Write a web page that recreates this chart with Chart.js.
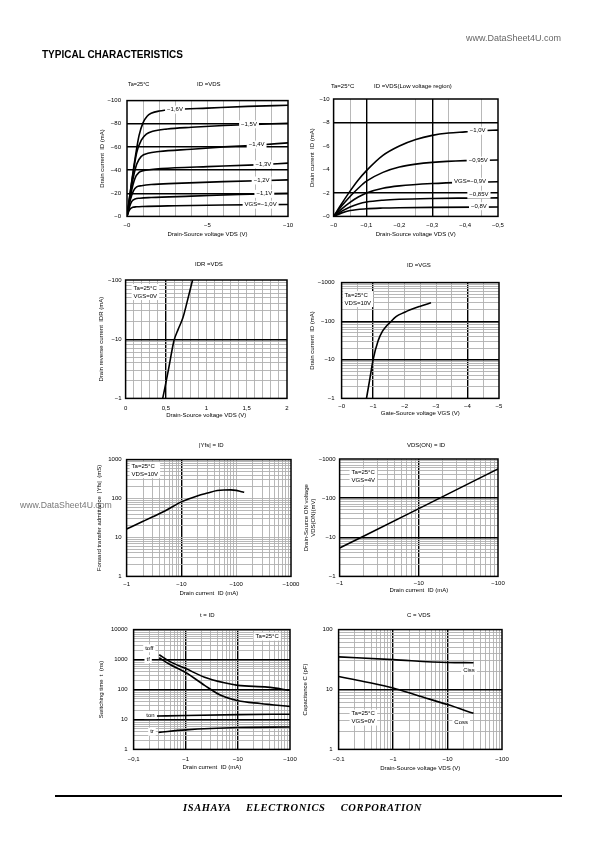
<!DOCTYPE html>
<html>
<head>
<meta charset="utf-8">
<title>Typical characteristics</title>
<script src="https://cdn.jsdelivr.net/npm/chart.js@4.4.1/dist/chart.umd.min.js"></script>
<style>
  body { margin: 0; width: 595px; height: 842px; position: relative; background: #fff;
         font-family: "Liberation Sans", Arial, sans-serif; color: #000; }
  canvas { position: absolute; }
  .t { position: absolute; font-size: 6px; line-height: 8px; white-space: nowrap; color: #000;
       filter: grayscale(100%); will-change: transform; }
</style>
</head>
<body>
<div class="t" style="left:466px;top:33px;font-size:9px;line-height:10px;color:#666">www.DataSheet4U.com</div>
<div class="t" style="left:42px;top:50px;font-size:10px;line-height:10px;font-weight:bold">TYPICAL CHARACTERISTICS</div>

<div class="t" style="left:128px;top:80px;font-size:5.5px">Ta=25°C</div>
<div class="t" style="left:197px;top:80px">ID =VDS</div>
<div class="t" style="left:331px;top:82px">Ta=25°C</div>
<div class="t" style="left:374px;top:82px">ID =VDS(Low voltage region)</div>
<div class="t" style="left:195px;top:260px">IDR =VDS</div>
<div class="t" style="left:407px;top:261px">ID =VGS</div>
<div class="t" style="left:199px;top:441px">|Yfs| = ID</div>
<div class="t" style="left:407px;top:441px">VDS(ON) = ID</div>
<div class="t" style="left:200px;top:611px">t = ID</div>
<div class="t" style="left:407px;top:611px">C = VDS</div>

<div class="t" style="left:20px;top:500px;font-size:8.7px;line-height:10px;color:#777">www.DataSheet4U.com</div>

<canvas id="c1"></canvas>
<canvas id="c2"></canvas>
<canvas id="c3"></canvas>
<canvas id="c4"></canvas>
<canvas id="c5"></canvas>
<canvas id="c6"></canvas>
<canvas id="c7"></canvas>
<canvas id="c8"></canvas>

<div style="position:absolute;left:55px;top:795px;width:507px;height:2px;background:#000"></div>
<div class="t" style="left:183px;top:802px;font:bold italic 10.5px 'Liberation Serif',serif;letter-spacing:0.6px;word-spacing:12px">ISAHAYA ELECTRONICS CORPORATION</div>

<script>
const FONT = '"Liberation Sans", Arial, sans-serif';
const GRAY = '#b0b0b0';

// ==========================
// ID - VDS  (magnitudes, V / mA)
// ==========================
const c1Vds16 = [0, 0.25, 0.5, 0.75, 1.0, 1.25, 1.5, 2, 3, 5, 7.5, 10];
const c1Id16  = [0, 26, 50, 70, 81, 86.5, 89, 91, 92.3, 93.5, 95, 96];
const c1Vds15 = [0, 0.3, 0.6, 0.9, 1.2, 1.6, 2.5, 4, 6, 8, 10];
const c1Id15  = [0, 30, 55, 66, 71, 73.5, 75.5, 77, 78.5, 79.5, 80.5];
const c1Vds14 = [0, 0.3, 0.6, 0.9, 1.3, 2, 4, 6, 8, 10];
const c1Id14  = [0, 27, 45, 52, 54.5, 56, 58, 60, 61.5, 63.5];
const c1Vds13 = [0, 0.25, 0.5, 0.75, 1.0, 1.5, 3, 5, 8, 10];
const c1Id13  = [0, 20, 33, 38, 39.5, 40.5, 42, 43, 44.5, 46];
const c1Vds12 = [0, 0.2, 0.4, 0.6, 0.9, 1.5, 3, 6, 10];
const c1Id12  = [0, 14, 22, 25.5, 26.5, 27.5, 28.5, 30, 31.5];
const c1Vds11 = [0, 0.15, 0.3, 0.5, 0.8, 1.5, 4, 7, 10];
const c1Id11  = [0, 8, 13, 15, 15.7, 16.3, 17.5, 19, 20];
const c1Vds10 = [0, 0.1, 0.2, 0.35, 0.6, 1, 3, 6, 10];
const c1Id10  = [0, 4, 6.5, 7.8, 8.3, 8.6, 9.2, 9.8, 10.3];
const c1XTicks = [0, 5, 10];
const c1XNames = ['−0', '−5', '−10'];
const c1YTicks = [0, 20, 40, 60, 80, 100];
const c1YNames = ['−0', '−20', '−40', '−60', '−80', '−100'];

// ==========================
// ID - VDS low voltage region
// ==========================
const c2Vds100 = [0, 0.025, 0.05, 0.075, 0.1, 0.15, 0.2, 0.25, 0.3, 0.35, 0.4, 0.45, 0.5];
const c2Id100  = [0, 1.1, 2.15, 3.1, 3.9, 5.2, 6.0, 6.55, 6.9, 7.1, 7.2, 7.3, 7.35];
const c2Vds095 = [0, 0.025, 0.05, 0.075, 0.1, 0.15, 0.2, 0.25, 0.3, 0.4, 0.5];
const c2Id095  = [0, 0.9, 1.7, 2.4, 3.0, 3.75, 4.2, 4.45, 4.6, 4.75, 4.8];
const c2Vds090 = [0, 0.025, 0.05, 0.075, 0.1, 0.15, 0.2, 0.3, 0.4, 0.5];
const c2Id090  = [0, 0.65, 1.2, 1.65, 2.0, 2.4, 2.6, 2.8, 2.9, 2.95];
const c2Vds085 = [0, 0.025, 0.05, 0.075, 0.1, 0.15, 0.2, 0.3, 0.4, 0.5];
const c2Id085  = [0, 0.45, 0.8, 1.05, 1.22, 1.38, 1.46, 1.53, 1.56, 1.58];
const c2Vds080 = [0, 0.025, 0.05, 0.1, 0.15, 0.2, 0.3, 0.5];
const c2Id080  = [0, 0.3, 0.5, 0.65, 0.71, 0.74, 0.77, 0.8];
const c2XTicks = [0, 0.1, 0.2, 0.3, 0.4, 0.5];
const c2XNames = ['−0', '−0,1', '−0,2', '−0,3', '−0,4', '−0,5'];
const c2YTicks = [0, 2, 4, 6, 8, 10];
const c2YNames = ['−0', '−2', '−4', '−6', '−8', '−10'];

// ==========================
// IDR - VDS
// ==========================
const c3Vds = [0.46, 0.53, 0.6, 0.65, 0.71, 0.77, 0.83];
const c3Idr = [1, 3.0, 9.5, 14.5, 23, 47, 100];
const c3XTicks = [0, 0.5, 1, 1.5, 2];
const c3XNames = ['0', '0,5', '1', '1,5', '2'];
const c3YTicks = [1, 10, 100];
const c3YNames = ['−1', '−10', '−100'];

// ==========================
// ID - VGS
// ==========================
const c4Vgs = [0.79, 0.9, 1.0, 1.16, 1.3, 1.42, 1.55, 1.74, 2.0, 2.16, 2.5, 2.84];
const c4Id  = [1, 3.3, 10, 31, 55, 74, 95, 133, 170, 195, 245, 300];
const c4XTicks = [0, 1, 2, 3, 4, 5];
const c4XNames = ['−0', '−1', '−2', '−3', '−4', '−5'];
const c4YTicks = [1, 10, 100, 1000];
const c4YNames = ['−1', '−10', '−100', '−1000'];

// ==========================
// |Yfs| - ID
// ==========================
const c5Id  = [1, 2, 3, 5, 10, 20, 30, 45, 60, 80, 100, 120, 140];
const c5Yfs = [16.5, 26, 34, 48, 82, 118, 138, 160, 166, 167, 162, 152, 145];
const c5XTicks = [1, 10, 100, 1000];
const c5XNames = ['−1', '−10', '−100', '−1000'];
const c5YTicks = [1, 10, 100, 1000];
const c5YNames = ['1', '10', '100', '1000'];

// ==========================
// VDS(ON) - ID
// ==========================
const c6Id   = [1, 10, 100];
const c6Vdon = [5.3, 54, 560];
const c6XTicks = [1, 10, 100];
const c6XNames = ['−1', '−10', '−100'];
const c6YTicks = [1, 10, 100, 1000];
const c6YNames = ['−1', '−10', '−100', '−1000'];

// ==========================
// t - ID
// ==========================
const c7IdOff = [0.31, 0.5, 1, 2.3, 5.5, 10, 37, 100];
const c7Toff  = [1450, 850, 500, 257, 167, 137, 120, 94];
const c7IdF   = [0.31, 0.5, 1, 2.3, 4.7, 10, 27, 100];
const c7Tf    = [1150, 680, 370, 137, 64, 42, 34, 27];
const c7IdOn  = [0.28, 1, 10, 100];
const c7Ton   = [13, 13.6, 14.5, 15];
const c7IdR   = [0.3, 1, 10, 100];
const c7Tr    = [3.7, 4.5, 5.4, 5.6];
const c7XTicks = [0.1, 1, 10, 100];
const c7XNames = ['−0,1', '−1', '−10', '−100'];
const c7YTicks = [1, 10, 100, 1000, 10000];
const c7YNames = ['1', '10', '100', '1000', '10000'];

// ==========================
// C - VDS
// ==========================
const c8VdsIss = [0.1, 1, 10, 30];
const c8Ciss   = [35, 31.5, 28.3, 28];
const c8VdsOss = [0.1, 0.3, 1, 3, 10, 30];
const c8Coss   = [16.5, 13.5, 10.6, 7.8, 5.6, 4.0];
const c8XTicks = [0.1, 1, 10, 100];
const c8XNames = ['−0.1', '−1', '−10', '−100'];
const c8YTicks = [1, 10, 100];
const c8YNames = ['1', '10', '100'];

// ==========================
// helpers
// ==========================
function near(a, b) { return Math.abs(a - b) <= 1e-9 * Math.max(1, Math.abs(b)); }
function inList(v, list) { return list.some(w => near(v, w)); }
function minors(lo, hi) {
  const out = [];
  for (let d = lo; d < hi * 0.999; d *= 10)
    for (let k = 2; k <= 9; k++) out.push(k * d);
  return out;
}

// labels with white background (curve names, condition boxes)
const notes = {
  id: 'notes',
  afterDatasetsDraw(chart, args, o) {
    const { ctx, chartArea: a, scales } = chart;
    ctx.save();
    ctx.font = '6px ' + FONT;
    ctx.textBaseline = 'middle';
    ctx.textAlign = 'left';
    (o.items || []).forEach(it => {
      const lines = it.text.split('\n');
      const w = Math.max(...lines.map(s => ctx.measureText(s).width)) + 4;
      let x0, cy;
      if (it.dx !== undefined) {
        x0 = a.left + it.dx; cy = a.top + it.dy;
      } else {
        x0 = scales.x.getPixelForValue(it.x) - w / 2; cy = scales.y.getPixelForValue(it.y);
      }
      ctx.fillStyle = '#fff';
      ctx.fillRect(x0, cy - 4, w, lines.length * 8);
      ctx.fillStyle = '#000';
      lines.forEach((s, i) => ctx.fillText(s, x0 + 2, cy + i * 8));
    });
    ctx.restore();
  }
};

const frame = {
  id: 'frame',
  afterDatasetsDraw(chart) {
    const { ctx, chartArea: a } = chart;
    ctx.save();
    ctx.strokeStyle = '#000';
    ctx.lineWidth = 1.5;
    ctx.strokeRect(a.left, a.top, a.right - a.left, a.bottom - a.top);
    ctx.restore();
  }
};

function axisCfg(a, isX) {
  const all = [...new Set([...a.grid, ...a.major, ...a.labels])].sort((p, q) => p - q);
  return {
    type: a.log ? 'logarithmic' : 'linear',
    position: isX ? 'bottom' : 'left',
    min: a.min, max: a.max,
    afterBuildTicks: s => { s.ticks = all.map(v => ({ value: v })); },
    afterFit: s => { if (isX) s.height = a.band; else s.width = a.band; },
    border: { display: false },
    grid: {
      drawTicks: false,
      color: c => inList(c.tick.value, a.major) ? '#000' : inList(c.tick.value, a.grid) ? GRAY : 'rgba(0,0,0,0)',
      lineWidth: c => inList(c.tick.value, a.major) ? 1.4 : 0.9
    },
    ticks: {
      autoSkip: false, maxRotation: 0, minRotation: 0, padding: a.pad,
      color: '#000', font: { family: FONT, size: 6 },
      callback: v => { const i = a.labels.findIndex(w => near(w, v)); return i < 0 ? '' : a.names[i]; }
    },
    title: { display: true, text: a.title, color: '#000', font: { family: FONT, size: 6 }, padding: 0 }
  };
}

// box = plot area on the page
function build(id, box, opt) {
  const cv = document.getElementById(id);
  const left = box.l - opt.y.band, top = box.t - 8;
  cv.width = box.r - left + 16;
  cv.height = box.b - top + opt.x.band;
  cv.style.left = left + 'px';
  cv.style.top = top + 'px';
  return new Chart(cv, {
    type: 'scatter',
    data: {
      datasets: opt.series.map(s => ({
        data: s[0].map((v, i) => ({ x: v, y: s[1][i] })),
        showLine: true, pointRadius: 0, borderColor: '#000', borderWidth: 1.6,
        cubicInterpolationMode: 'monotone'
      }))
    },
    options: {
      responsive: false, animation: false, devicePixelRatio: 1,
      layout: { padding: { left: 0, top: 8, right: 16, bottom: 0 } },
      plugins: { legend: { display: false }, tooltip: { enabled: false }, notes: { items: opt.notes || [] } },
      scales: { x: axisCfg(opt.x, true), y: axisCfg(opt.y, false) }
    },
    plugins: [notes, frame]
  });
}

const VDS_TITLE = 'Drain-Source voltage VDS (V)';

build('c1', { l: 127, t: 99, r: 288, b: 217 }, {
  series: [[c1Vds16, c1Id16], [c1Vds15, c1Id15], [c1Vds14, c1Id14], [c1Vds13, c1Id13],
           [c1Vds12, c1Id12], [c1Vds11, c1Id11], [c1Vds10, c1Id10]],
  x: { min: 0, max: 10, grid: [1, 2, 3, 4, 5, 6, 7, 8, 9], major: [], labels: c1XTicks, names: c1XNames,
       title: VDS_TITLE, band: 21.6, pad: 5 },
  y: { min: 0, max: 100, grid: [], major: [20, 40, 60, 80], labels: c1YTicks, names: c1YNames,
       title: 'Drain current  ID (mA)', band: 28, pad: 6 },
  notes: [
    { x: 2.98, y: 92.2, text: '−1,6V' }, { x: 7.58, y: 79.5, text: '−1,5V' },
    { x: 8.05, y: 62, text: '−1,4V' }, { x: 8.47, y: 45, text: '−1,3V' },
    { x: 8.36, y: 31, text: '−1,2V' }, { x: 8.53, y: 19.5, text: '−1,1V' },
    { x: 8.3, y: 10.1, text: 'VGS=−1,0V' }
  ]
});

build('c2', { l: 334, t: 99, r: 499, b: 217 }, {
  series: [[c2Vds100, c2Id100], [c2Vds095, c2Id095], [c2Vds090, c2Id090], [c2Vds085, c2Id085], [c2Vds080, c2Id080]],
  x: { min: 0, max: 0.5, grid: [0.05, 0.25, 0.35, 0.45], major: [0.1, 0.3], labels: c2XTicks, names: c2XNames,
       title: VDS_TITLE, band: 21.6, pad: 5 },
  y: { min: 0, max: 10, grid: [], major: [2, 8], labels: c2YTicks, names: c2YNames,
       title: 'Drain current  ID (mA)', band: 24.6, pad: 4 },
  notes: [
    { x: 0.438, y: 7.3, text: '−1,0V' }, { x: 0.44, y: 4.75, text: '−0,95V' },
    { x: 0.415, y: 2.95, text: 'VGS=−0,9V' }, { x: 0.442, y: 1.85, text: '−0,85V' },
    { x: 0.442, y: 0.87, text: '−0,8V' }
  ]
});

build('c3', { l: 126, t: 280, r: 288, b: 399 }, {
  series: [[c3Vds, c3Idr]],
  x: { min: 0, max: 2, grid: [0.1, 0.2, 0.3, 0.4, 0.6, 0.7, 0.8, 0.9, 1, 1.1, 1.2, 1.3, 1.4, 1.5, 1.6, 1.7, 1.8, 1.9],
       major: [0.5], labels: c3XTicks, names: c3XNames, title: VDS_TITLE, band: 20.6, pad: 6 },
  y: { log: true, min: 1, max: 100, grid: minors(1, 100), major: [10], labels: c3YTicks, names: c3YNames,
       title: 'Drain reverse current  IDR (mA)', band: 27.6, pad: 4 },
  notes: [{ dx: 6, dy: 8, text: 'Ta=25°C\nVGS=0V' }]
});

build('c4', { l: 342, t: 280, r: 500, b: 399 }, {
  series: [[c4Vgs, c4Id]],
  x: { min: 0, max: 5, grid: [0.5, 1.5, 2, 2.5, 3, 3.5, 4.5], major: [1, 4], labels: c4XTicks, names: c4XNames,
       title: 'Gate-Source voltage VGS (V)', band: 18.6, pad: 4 },
  y: { log: true, min: 1, max: 1000, grid: minors(1, 1000), major: [10, 100], labels: c4YTicks, names: c4YNames,
       title: 'Drain current  ID (mA)', band: 32.6, pad: 7 },
  notes: [{ dx: 1, dy: 12.5, text: 'Ta=25°C\nVDS=10V' }]
});

build('c5', { l: 127, t: 459, r: 292, b: 577 }, {
  series: [[c5Id, c5Yfs]],
  x: { log: true, min: 1, max: 1000, grid: minors(1, 1000).concat([100]), major: [10], labels: c5XTicks, names: c5XNames,
       title: 'Drain current  ID (mA)', band: 20.6, pad: 4.4 },
  y: { log: true, min: 1, max: 1000, grid: minors(1, 1000).concat([10, 100]), major: [], labels: c5YTicks, names: c5YNames,
       title: 'Forward transfer admittance  |Yfs|  (mS)', band: 30.6, pad: 5 },
  notes: [{ dx: 3, dy: 6.5, text: 'Ta=25°C\nVDS=10V' }]
});

build('c6', { l: 340, t: 459, r: 499, b: 577 }, {
  series: [[c6Id, c6Vdon]],
  x: { log: true, min: 1, max: 100, grid: minors(1, 100), major: [10], labels: c6XTicks, names: c6XNames,
       title: 'Drain current  ID (mA)', band: 17.6, pad: 3.4 },
  y: { log: true, min: 1, max: 1000, grid: minors(1, 1000), major: [10, 100], labels: c6YTicks, names: c6YNames,
       title: ['Drain-Source ON voltage', 'VDS(ON)(mV)'], band: 36.6, pad: 4 },
  notes: [{ dx: 10, dy: 13.7, text: 'Ta=25°C\nVGS=4V' }]
});

build('c7', { l: 134, t: 628, r: 291, b: 750 }, {
  series: [[c7IdOff, c7Toff], [c7IdF, c7Tf], [c7IdOn, c7Ton], [c7IdR, c7Tr]],
  x: { log: true, min: 0.1, max: 100, grid: minors(0.1, 100), major: [1, 10], labels: c7XTicks, names: c7XNames,
       title: 'Drain current  ID (mA)', band: 21.6, pad: 6.4 },
  y: { log: true, min: 1, max: 10000, grid: minors(1, 10000), major: [10, 100, 1000], labels: c7YTicks, names: c7YNames,
       title: 'Switching time  t  (ns)', band: 35.6, pad: 6 },
  notes: [
    { x: 0.2, y: 2380, text: 'toff' }, { x: 0.19, y: 1040, text: 'tf' },
    { x: 0.21, y: 14, text: 'ton' }, { x: 0.225, y: 3.9, text: 'tr' },
    { dx: 120, dy: 7, text: 'Ta=25°C' }
  ]
});

build('c8', { l: 339, t: 628, r: 503, b: 750 }, {
  series: [[c8VdsIss, c8Ciss], [c8VdsOss, c8Coss]],
  x: { log: true, min: 0.1, max: 100, grid: minors(0.1, 100), major: [1, 10], labels: c8XTicks, names: c8XNames,
       title: VDS_TITLE, band: 22.6, pad: 6.4 },
  y: { log: true, min: 1, max: 100, grid: minors(1, 100), major: [10], labels: c8YTicks, names: c8YNames,
       title: 'Capacitance C (pF)', band: 36.6, pad: 6 },
  notes: [
    { x: 24.8, y: 20.5, text: 'Ciss' }, { x: 17.8, y: 2.88, text: 'Coss' },
    { dx: 11, dy: 84, text: 'Ta=25°C\nVGS=0V' }
  ]
});
</script>
</body>
</html>
